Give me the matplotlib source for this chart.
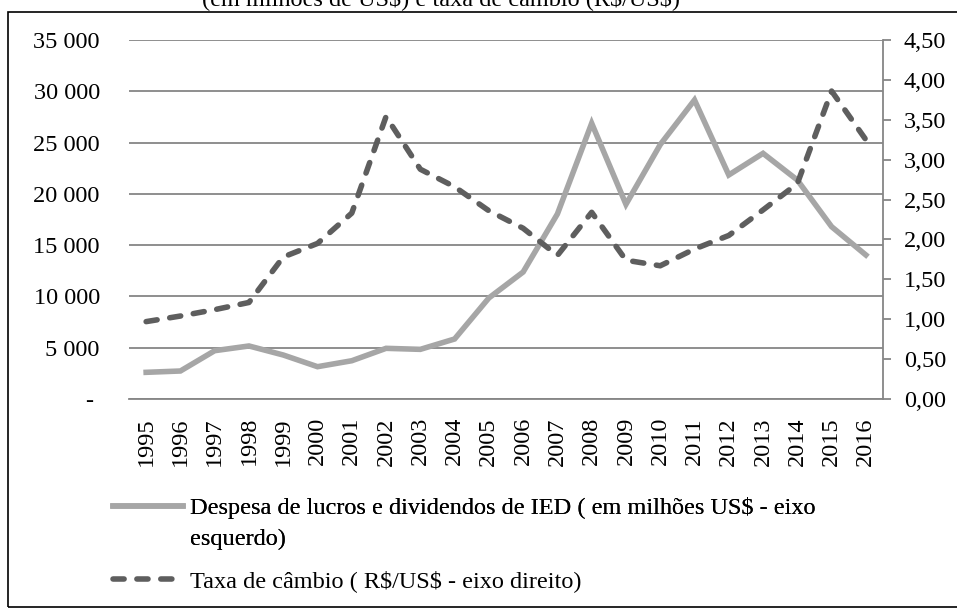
import matplotlib
matplotlib.use("Agg")
import matplotlib.pyplot as plt
from matplotlib.lines import Line2D
from matplotlib.patches import Rectangle
from matplotlib.ticker import FuncFormatter

plt.rcParams['font.family'] = ['Liberation Serif', 'DejaVu Serif']
plt.rcParams['font.size'] = 17.5

# data
years = [str(y) for y in range(1995, 2017)]
lucros = [2600, 2730, 4710, 5170, 4290, 3150, 3730, 4940, 4840, 5850,
          9850, 12380, 18040, 26880, 18980, 24800, 29150, 21840, 23950, 21350,
          16800, 14040]
cambio = [0.97, 1.04, 1.12, 1.21, 1.78, 1.95, 2.33, 3.54, 2.88, 2.66,
          2.36, 2.14, 1.80, 2.34, 1.74, 1.67, 1.88, 2.05, 2.37, 2.70,
          3.86, 3.25]
left_ticks = [0, 5000, 10000, 15000, 20000, 25000, 30000, 35000]
right_ticks = [0, 0.5, 1.0, 1.5, 2.0, 2.5, 3.0, 3.5, 4.0, 4.5]

label_lucros = "Despesa de lucros e dividendos de IED ( em milhões US\\$ - eixo"
label_lucros2 = "esquerdo)"
label_cambio = "Taxa de câmbio ( R\\$/US\\$ - eixo direito)"
title = "(em milhões de US\\$) e taxa de câmbio (R\\$/US\\$)"

W, H = 957, 611
fig = plt.figure(figsize=(W / 100, H / 100), dpi=100)
ax = fig.add_axes([129 / W, 1 - 399 / H, (883 - 129) / W, (399 - 40) / H])
ax2 = ax.twinx()

grid_c = '#868686'
light = '#a6a6a6'
dark = '#5e5e5e'

x = list(range(len(years)))

# left axis
ax.set_ylim(0, 35000)
ax.set_xlim(-0.5, len(years) - 0.5)
ax.set_yticks(left_ticks)
ax.yaxis.set_major_formatter(FuncFormatter(
    lambda v, p: "- " if v == 0 else f"{int(v):,}".replace(",", " ")))
ax.grid(axis='y', color=grid_c, lw=1.3)
ax.set_axisbelow(True)
ax.tick_params(axis='y', length=0, pad=21)
ax.set_xticks(x)
ax.set_xticklabels(years, rotation=90)
ax.tick_params(axis='x', length=0, pad=13)
for s in ['top', 'left', 'right']:
    ax.spines[s].set_visible(False)
ax.spines['bottom'].set_color(grid_c)
ax.spines['bottom'].set_linewidth(1.3)

l1, = ax.plot(x, lucros, color=light, lw=4, solid_joinstyle='miter', zorder=3)

# right axis
ax2.set_ylim(0, 4.5)
ax2.set_yticks(right_ticks)
ax2.yaxis.set_major_formatter(FuncFormatter(lambda v, p: f"{v:.2f}".replace(".", ",")))
ax2.tick_params(axis='y', length=6, width=1.3, color=grid_c, pad=9)
for s in ['top', 'left', 'bottom']:
    ax2.spines[s].set_visible(False)
ax2.spines['right'].set_color(grid_c)
ax2.spines['right'].set_linewidth(1.3)

l2, = ax2.plot(x, cambio, color=dark, lw=4, dashes=(2.0, 2.3),
               dash_capstyle='round', zorder=4)

# legend (two blocks so the wrapped label keeps its handle on the first line)
blank = Line2D([], [], color='none')
leg1 = fig.legend([l1, blank], [label_lucros, label_lucros2], loc='upper left',
                  bbox_to_anchor=(113 / W, 1 - 497 / H), frameon=False,
                  borderpad=0, borderaxespad=0, handlelength=2.9,
                  handletextpad=0.25, labelspacing=0.35)
fig.add_artist(leg1)
fig.legend([l2], [label_cambio], loc='upper left',
           bbox_to_anchor=(113 / W, 1 - 570 / H), frameon=False,
           borderpad=0, borderaxespad=0, handlelength=2.9,
           handletextpad=0.25)

# title line cut at the top and the outer frame
fig.text(441 / W, 1 - 5 / H, title, ha='center', va='baseline')
fig.add_artist(Rectangle((8 / W, 1 - 607 / H), 1.0, (607 - 12) / H,
                         transform=fig.transFigure, fill=False,
                         edgecolor='black', lw=1.2))

fig.savefig("out.png", dpi=100)
